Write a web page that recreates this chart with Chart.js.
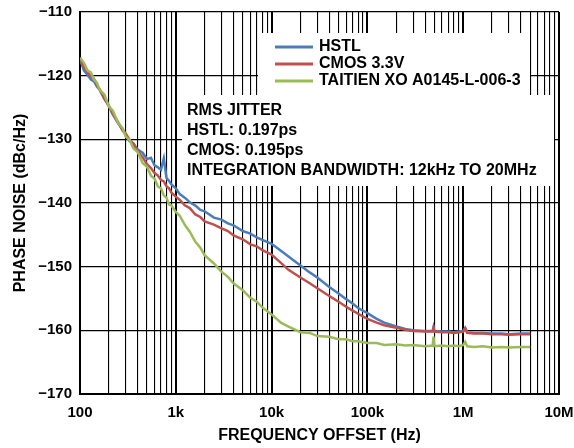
<!DOCTYPE html>
<html>
<head>
<meta charset="utf-8">
<script src="https://cdn.jsdelivr.net/npm/chart.js@4.4.1/dist/chart.umd.min.js"></script>
<style>
  html, body { margin: 0; padding: 0; background: #fff; }
  #wrap { width: 574px; height: 448px; }
</style>
</head>
<body>
<div id="wrap"><canvas id="chartNoise" width="574" height="448"></canvas></div>
<script>
// Phase noise vs frequency offset

const freqHz = [100, 110, 120, 130, 140, 150, 160, 180, 200, 220, 250, 280, 300, 330, 360, 400, 450, 500, 550, 600,
  650, 700, 750, 800, 850, 900, 1000, 1100, 1250, 1400, 1600, 1800, 2000, 2500, 3000, 3500, 4000, 5000, 6000, 7000,
  8000, 10000, 12500, 15000, 20000, 25000, 30000, 40000, 50000, 60000, 70000, 80000, 100000, 125000, 150000, 200000,
  250000, 300000, 400000, 480000, 490000, 500000, 600000, 700000, 800000, 900000, 1000000, 1050000, 1100000, 1300000,
  1600000, 2000000, 2500000, 3000000, 4000000, 5000000];

const hstl = [-117.4, -119.2, -119.9, -120.6, -120.9, -121.7, -122.2, -123.7, -124.7, -126.1, -127.5, -128.5, -129.3, -130.3, -130.6, -131.6, -132.1, -133.1, -132.9, -134.1,
  -134.4, -134.8, -133.0, -136.1, -136.5, -137.1, -137.7, -138.6, -139.2, -139.9, -140.4, -141.1, -141.3, -142.3, -142.6, -143.2, -143.5, -144.4, -144.8, -145.4,
  -145.8, -146.4, -147.5, -148.4, -149.8, -150.9, -151.7, -153.2, -154.2, -155.1, -155.8, -156.5, -157.3, -158.2, -158.8, -159.4,
  -159.8, -160.0, -160.1, -160.1, -159.5, -160.1, -160.2, -160.2, -160.3, -160.2, -160.1, -159.6, -160.3, -160.4,
  -160.4, -160.5, -160.5, -160.6, -160.5, -160.5];

const cmos = [-117.2, -118.7, -119.5, -120.1, -120.5, -121.5, -122.1, -123.6, -124.8, -126.0, -127.3, -128.7, -129.1, -130.1, -130.7, -131.9, -132.8, -133.9, -134.5, -135.3,
  -135.7, -136.4, -136.6, -137.4, -137.7, -138.4, -139.0, -139.5, -140.4, -140.8, -141.8, -142.2, -142.9, -143.4, -144.0, -144.4, -145.1, -145.7, -146.5, -146.8,
  -147.4, -148.1, -149.4, -150.5, -151.7, -152.6, -153.4, -154.6, -155.5, -156.3, -156.9, -157.4, -158.2, -158.8, -159.2, -159.6,
  -159.9, -160.1, -160.2, -160.2, -159.6, -160.2, -160.3, -160.3, -160.4, -160.3, -160.2, -159.7, -160.4, -160.5,
  -160.5, -160.6, -160.6, -160.7, -160.6, -160.6];

const taitien = [-117.2, -118.0, -119.2, -119.5, -120.6, -121.1, -122.2, -123.0, -124.8, -125.5, -127.4, -128.3, -129.6, -130.1, -131.4, -132.0, -133.7, -134.3, -135.7, -136.2,
  -137.4, -137.7, -138.8, -139.2, -140.2, -140.4, -141.4, -142.0, -143.5, -144.5, -146.1, -147.0, -148.2, -149.5, -150.8, -151.6, -152.6, -153.7, -154.9, -155.5,
  -156.4, -157.5, -158.8, -159.4, -160.3, -160.4, -160.9, -161.0, -161.4, -161.4, -161.7, -161.7, -162.0, -162.0, -162.3, -162.2,
  -162.4, -162.3, -162.5, -162.4, -161.0, -162.5, -162.4, -162.5, -162.4, -162.5, -162.3, -161.8, -162.5, -162.6,
  -162.5, -162.7, -162.6, -162.7, -162.6, -162.6];

const seriesNames = ['HSTL', 'CMOS 3.3V', 'TAITIEN XO A0145-L-006-3'];
const xDecades = [100, 1000, 10000, 100000, 1000000, 10000000];
const xTickLabels = ['100', '1k', '10k', '100k', '1M', '10M'];
const yTicks = [-170, -160, -150, -140, -130, -120, -110];
const jitterNotes = ['RMS JITTER', 'HSTL: 0.197ps', 'CMOS: 0.195ps', 'INTEGRATION BANDWIDTH: 12kHz TO 20MHz'];

const blue = '#4a7ebb';
const red = '#c0504d';
const green = '#9bbb59';
const FONT = "'Liberation Sans', Arial, sans-serif";

const toPoints = arr => freqHz.map((f, i) => ({ x: f, y: arr[i] }));
const isDecade = v => Math.abs(Math.log10(v) - Math.round(Math.log10(v))) < 1e-9;

// white background
const bgPlugin = {
  id: 'bg',
  beforeDraw(chart){
    const c = chart.ctx;
    c.save(); c.fillStyle = '#fff'; c.fillRect(0, 0, chart.width, chart.height); c.restore();
  }
};

// legend + jitter note boxes sitting inside the plot
const notePlugin = {
  id: 'notes',
  beforeDatasetsDraw(chart){
    const c = chart.ctx;
    c.save();
    c.fillStyle = '#fff';
    c.fillRect(258, 33, 272, 63);
    c.fillRect(182, 95, 372, 91);
    c.font = `bold 16px ${FONT}`;
    c.textBaseline = 'middle';
    chart.data.datasets.forEach((ds, i) => {
      const y = 47 + i * 17;
      c.strokeStyle = ds.borderColor; c.lineWidth = 3;
      c.beginPath(); c.moveTo(275, y); c.lineTo(313, y); c.stroke();
      c.fillStyle = '#000';
      c.fillText(ds.label, 319, y);
    });
    jitterNotes.forEach((t, i) => c.fillText(t, 187, 111 + i * 20));
    c.restore();
  }
};

const ctx = document.getElementById('chartNoise').getContext('2d');
new Chart(ctx, {
  type: 'line',
  data: {
    datasets: [
      { label: seriesNames[0], data: toPoints(hstl), borderColor: blue, order: 2 },
      { label: seriesNames[1], data: toPoints(cmos), borderColor: red, order: 1 },
      { label: seriesNames[2], data: toPoints(taitien), borderColor: green, order: 0 },
    ].map(d => Object.assign(d, { borderWidth: 2.5, pointRadius: 0, tension: 0, fill: false }))
  },
  plugins: [bgPlugin, notePlugin],
  options: {
    responsive: false,
    devicePixelRatio: 1,
    animation: false,
    layout: { padding: { top: 12, right: 15, left: 0, bottom: 0 } },
    plugins: { legend: { display: false }, tooltip: { enabled: false } },
    scales: {
      x: {
        type: 'logarithmic',
        min: 100, max: 10000000,
        afterBuildTicks(scale){
          const ticks = [];
          xDecades.forEach((d, i) => {
            if(i === xDecades.length - 1){ ticks.push({ value: d }); return; }
            for(let k = 1; k < 10; k++) ticks.push({ value: d * k });
          });
          scale.ticks = ticks;
        },
        afterFit(scale){ scale.height = 54; scale.paddingLeft = 0; scale.paddingRight = 0; },
        grid: {
          color: '#000',
          lineWidth: c => (c.tick && isDecade(c.tick.value) ? 2 : 1.1),
          drawTicks: false,
        },
        border: { color: '#000', width: 2 },
        ticks: {
          autoSkip: false, maxRotation: 0, padding: 10, color: '#000',
          font: { family: FONT, size: 15, weight: 'bold' },
          callback(v){
            const i = xDecades.indexOf(v);
            return i >= 0 ? xTickLabels[i] : '';
          }
        },
        title: {
          display: true, text: 'FREQUENCY OFFSET (Hz)', color: '#000',
          font: { family: FONT, size: 16, weight: 'bold' }, padding: { top: 0, bottom: 3 }
        }
      },
      y: {
        min: -170, max: -110,
        afterBuildTicks(scale){ scale.ticks = yTicks.map(v => ({ value: v })); },
        afterFit(scale){ scale.width = 80; scale.paddingTop = 0; scale.paddingBottom = 0; },
        grid: { color: '#000', lineWidth: 1.2, drawTicks: false },
        border: { color: '#000', width: 2 },
        ticks: {
          padding: 8, color: '#000',
          font: { family: FONT, size: 15, weight: 'bold' },
          callback: v => '\u2212' + Math.abs(v)
        },
        title: {
          display: true, text: 'PHASE NOISE (dBc/Hz)', color: '#000',
          font: { family: FONT, size: 16, weight: 'bold' }, padding: { top: 11, bottom: 0 }
        }
      }
    }
  }
});
</script>
</body>
</html>
